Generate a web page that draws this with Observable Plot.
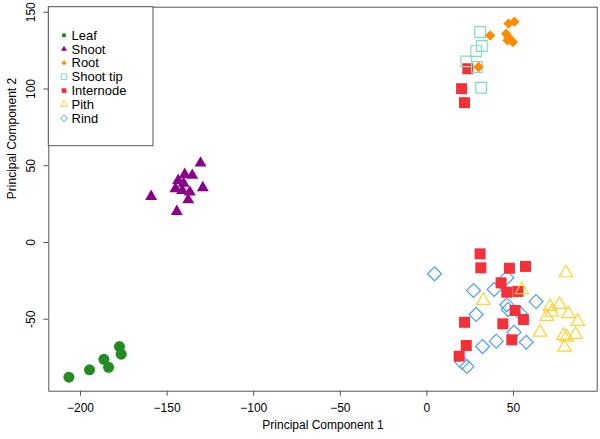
<!DOCTYPE html>
<html><head><meta charset="utf-8">
<script src="https://cdn.jsdelivr.net/npm/d3@7"></script>
<script src="https://cdn.jsdelivr.net/npm/@observablehq/plot@0.6"></script>
<style>body{margin:0;background:#fff}</style>
</head><body><div id="chart"></div>
<script>
// ---- data ----
const categories = ["Leaf", "Shoot", "Root", "Shoot tip", "Internode", "Pith", "Rind"];
const colors = ["#228B22", "#8B008B", "#FF8C00", "#80DCC0", "#F43038", "#FFD22E", "#4EA0F5"];

const leafX = [-206.7, -194.8, -186.5, -183.8, -177.5, -176.5];
const leafY = [-87.8, -83.0, -76.1, -81.3, -67.8, -72.8];

const shootX = [-159.2, -144.4, -130.7, -129.4, -137.8, -136.9, -139.8, -135.5, -143.6, -145.2, -141.3, -140.5];
const shootY = [30.0, 20.2, 51.7, 35.7, 27.8, 32.8, 44.3, 43.7, 40.4, 35.0, 33.9, 38.5];

const rootX = [47.1, 50.5, 36.5, 45.7, 47.1, 49.6, 46.5, 29.8];
const rootY = [142.6, 143.9, 134.9, 136.0, 133.8, 130.6, 131.7, 114.3];

const shootTipX = [30.7, 31.7, 28.4, 22.7, 28.8, 31.3];
const shootTipY = [137.1, 128.0, 124.7, 118.0, 114.3, 100.8];

const internodeX = [23.6, 20.0, 21.7, 30.7, 31.1, 47.6, 56.9, 42.8, 46.1, 52.5, 50.9, 55.7, 21.7, 43.8, 49.0, 22.7, 18.6];
const internodeY = [113.2, 100.2, 91.1, -7.4, -16.5, -16.8, -15.6, -26.3, -32.4, -31.9, -44.3, -50.2, -52.0, -53.0, -63.4, -67.1, -74.1];

const pithX = [80.2, 54.8, 32.6, 71.1, 76.5, 81.7, 72.1, 69.2, 87.1, 65.3, 78.8, 80.7, 85.9, 79.4];
const pithY = [-19.8, -30.8, -37.8, -41.7, -40.4, -46.5, -45.4, -48.2, -51.5, -58.5, -60.6, -61.7, -60.0, -68.3];

const rindX = [4.4, 26.9, 38.8, 46.1, 63.0, 46.1, 46.9, 28.4, 53.8, 50.3, 40.0, 32.1, 57.3, 20.2, 23.1];
const rindY = [-20.4, -31.3, -30.6, -23.0, -38.5, -40.6, -43.7, -46.9, -46.1, -58.5, -64.3, -67.8, -65.0, -78.0, -80.8];

const xTicks = [-200, -150, -100, -50, 0, 50];
const yTicks = [-50, 0, 50, 100, 150];

// ---- styling ----
const symbols = ["circle", "triangle2", "diamond2", "square2", "square2", "triangle2", "diamond2"];
const filled = [true, true, true, false, true, false, false];
const radii = [5.5, 5.7, 4.7, 6.8, 7.0, 6.4, 6.3];
const legendR = [2.2, 2.8, 2.3, 3.6, 3.0, 3.4, 3.2];

const series = [
  [leafX, leafY], [shootX, shootY], [rootX, rootY], [shootTipX, shootTipY],
  [internodeX, internodeY], [pithX, pithY], [rindX, rindY]
];
const drawOrder = [0, 1, 6, 4, 5, 3, 2];
const frameColor = "#555";

const dotMarks = drawOrder.map(i => {
  const [xs, ys] = series[i];
  const data = xs.map((x, k) => ({x, y: ys[k]}));
  return Plot.dot(data, {
    x: "x", y: "y", symbol: symbols[i], r: radii[i],
    fill: filled[i] ? colors[i] : "none",
    stroke: filled[i] ? "none" : colors[i],
    strokeWidth: filled[i] ? 0 : 1.2
  });
});

const svg = Plot.plot({
  width: 600, height: 439,
  marginLeft: 48.3, marginRight: 3.3, marginTop: 6.7, marginBottom: 48.3,
  style: {fontFamily: "'Liberation Sans', Arial, sans-serif", fontSize: "12px", background: "#fff", color: "#000"},
  x: {domain: [-218.3, 98.3]},
  y: {domain: [-96.9, 153.3]},
  marks: [
    ...dotMarks,
    Plot.frame({stroke: frameColor, strokeWidth: 1}),
    Plot.axisX({ticks: xTicks, tickSize: 5, tickPadding: 7, label: null, stroke: frameColor, fontSize: 12}),
    Plot.axisY({ticks: yTicks, tickSize: 5, tickFormat: () => "", label: null, stroke: frameColor}),
    Plot.text(yTicks, {y: d => d, text: d => Plot.formatNumber()(d) ?? String(d), frameAnchor: "left", dx: -17.8, rotate: -90, textAnchor: "middle", fontSize: 12}),
    Plot.text(["Principal Component 1"], {frameAnchor: "bottom", dy: 37.3, fontSize: 12}),
    Plot.text(["Principal Component 2"], {frameAnchor: "left", dx: -36.3, rotate: -90, fontSize: 12})
  ]
});

// ---- legend (inside plot area, top-left) ----
const g = d3.select(svg).append("g").attr("text-anchor", "start");
g.append("rect").attr("x", 48.3).attr("y", 6.7).attr("width", 104.7).attr("height", 139)
  .attr("fill", "#fff").attr("stroke", frameColor).attr("stroke-width", 1);
const d3sym = {circle: d3.symbolCircle, triangle2: d3.symbolTriangle2, diamond2: d3.symbolDiamond2, square2: d3.symbolSquare2};
categories.forEach((name, i) => {
  const cy = 35.2 + i * 13.85;
  g.append("path")
    .attr("transform", `translate(64,${cy})`)
    .attr("d", d3.symbol(d3sym[symbols[i]], Math.PI * legendR[i] ** 2)())
    .attr("fill", filled[i] ? colors[i] : "none")
    .attr("stroke", filled[i] ? "none" : colors[i])
    .attr("stroke-width", 1);
  g.append("text").attr("x", 71.5).attr("y", cy).attr("dy", "0.35em")
    .attr("text-anchor", "start")
    .attr("font-size", 13).attr("fill", "#000").text(name);
});

document.getElementById("chart").appendChild(svg);
</script>
</body></html>
